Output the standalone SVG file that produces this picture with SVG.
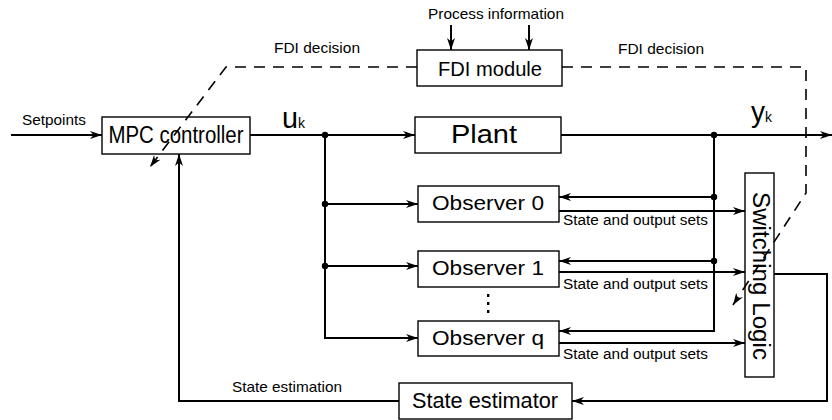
<svg xmlns="http://www.w3.org/2000/svg" width="832" height="420" viewBox="0 0 832 420">
  <defs>
    <marker id="arr" markerWidth="12" markerHeight="9" refX="12" refY="4.5" orient="auto" markerUnits="userSpaceOnUse">
      <path d="M0,0.5 L12,4.5 L0,8.5 L3.5,4.5 z" fill="#000"/>
    </marker>
  </defs>
  <style>
    .box { fill: #fff; stroke: #000; stroke-width: 1.4; }
    .ln { fill: none; stroke: #000; stroke-width: 2; }
    .dash { fill: none; stroke: #000; stroke-width: 1.6; stroke-dasharray: 11 8; }
    .big { font-family: "Liberation Sans", Arial, sans-serif; fill: #000; text-anchor: middle; }
    .small { font-family: "Liberation Sans", Arial, sans-serif; fill: #000; }
    .sym { font-family: "Liberation Sans", Arial, sans-serif; fill: #000; }
    .dot { fill: #000; }
  </style>
  <rect width="832" height="420" fill="#fff"/>

  <!-- connectors -->
  <g id="connectors">
    <!-- setpoints into controller -->
    <line class="ln" x1="11" y1="135" x2="102" y2="135" marker-end="url(#arr)"/>
    <!-- control signal to plant -->
    <line class="ln" x1="250" y1="135" x2="415" y2="135" marker-end="url(#arr)"/>
    <!-- control signal bus to observers -->
    <polyline class="ln" points="325,135 325,338 418,338" marker-end="url(#arr)"/>
    <line class="ln" x1="325" y1="204" x2="418" y2="204" marker-end="url(#arr)"/>
    <line class="ln" x1="325" y1="266" x2="418" y2="266" marker-end="url(#arr)"/>
    <circle class="dot" cx="325" cy="135" r="3.2"/>
    <circle class="dot" cx="325" cy="204" r="3.2"/>
    <circle class="dot" cx="325" cy="266" r="3.2"/>
    <!-- plant output -->
    <line class="ln" x1="561" y1="135" x2="832" y2="135" marker-end="url(#arr)"/>
    <!-- measured output fed back to observers -->
    <polyline class="ln" points="714,135 714,331 559,331" marker-end="url(#arr)"/>
    <line class="ln" x1="714" y1="197" x2="559" y2="197" marker-end="url(#arr)"/>
    <line class="ln" x1="714" y1="261" x2="559" y2="261" marker-end="url(#arr)"/>
    <circle class="dot" cx="714" cy="135" r="3.2"/>
    <circle class="dot" cx="714" cy="197" r="3.2"/>
    <circle class="dot" cx="714" cy="261" r="3.2"/>
    <!-- observer sets to switching logic -->
    <line class="ln" x1="559" y1="211" x2="745" y2="211" marker-end="url(#arr)"/>
    <line class="ln" x1="559" y1="272" x2="745" y2="272" marker-end="url(#arr)"/>
    <line class="ln" x1="559" y1="343" x2="745" y2="343" marker-end="url(#arr)"/>
    <!-- switching logic to state estimator -->
    <polyline class="ln" points="774,274 827,274 827,401 572,401" marker-end="url(#arr)"/>
    <!-- state estimation back to controller -->
    <polyline class="ln" points="399,401 179,401 179,154" marker-end="url(#arr)"/>
    <!-- process information into FDI module -->
    <line class="ln" x1="451" y1="25" x2="451" y2="50" marker-end="url(#arr)"/>
    <line class="ln" x1="529" y1="25" x2="529" y2="50" marker-end="url(#arr)"/>
    <!-- FDI decisions -->
    <polyline class="dash" points="417,67 226,67 150,167" marker-end="url(#arr)"/>
    <polyline class="dash" points="562,67 806,67 806,193 733,305" marker-end="url(#arr)"/>
  </g>

  <!-- nodes -->
  <g id="mpc">
    <rect class="box" x="102" y="117" width="148" height="37" fill-opacity="0"/>
    <text class="big" x="176" y="143" font-size="23" textLength="135" lengthAdjust="spacingAndGlyphs">MPC controller</text>
  </g>
  <g id="fdi">
    <rect class="box" x="417" y="50" width="145" height="36"/>
    <text class="big" x="490" y="76" font-size="21" textLength="104" lengthAdjust="spacingAndGlyphs">FDI module</text>
  </g>
  <g id="plant">
    <rect class="box" x="415" y="117" width="146" height="36"/>
    <text class="big" x="484" y="143" font-size="25" textLength="66" lengthAdjust="spacingAndGlyphs">Plant</text>
  </g>
  <g id="observer0">
    <rect class="box" x="418" y="186" width="141" height="36"/>
    <text class="big" x="488" y="210" font-size="21" textLength="112" lengthAdjust="spacingAndGlyphs">Observer 0</text>
  </g>
  <g id="observer1">
    <rect class="box" x="418" y="251" width="141" height="36"/>
    <text class="big" x="488" y="275" font-size="21" textLength="112" lengthAdjust="spacingAndGlyphs">Observer 1</text>
  </g>
  <g id="ellipsis">
    <rect class="dot" x="487" y="294" width="2.4" height="3"/>
    <rect class="dot" x="487" y="302" width="2.4" height="3"/>
    <rect class="dot" x="487" y="310" width="2.4" height="3"/>
  </g>
  <g id="observerq">
    <rect class="box" x="418" y="321" width="141" height="35"/>
    <text class="big" x="488" y="345" font-size="21" textLength="112" lengthAdjust="spacingAndGlyphs">Observer q</text>
  </g>
  <g id="switching">
    <rect class="box" x="745" y="173" width="29" height="204" fill-opacity="0"/>
    <text class="big" transform="translate(753,276) rotate(90)" font-size="23" textLength="168" lengthAdjust="spacingAndGlyphs">Switching Logic</text>
  </g>
  <g id="estimator">
    <rect class="box" x="399" y="383" width="173" height="36"/>
    <text class="big" x="485" y="408" font-size="22" textLength="146" lengthAdjust="spacingAndGlyphs">State estimator</text>
  </g>

  <!-- labels -->
  <g id="labels">
    <text class="small" x="22" y="125" font-size="15" textLength="64" lengthAdjust="spacingAndGlyphs">Setpoints</text>
    <text class="small" x="428" y="19" font-size="15" textLength="136" lengthAdjust="spacingAndGlyphs">Process information</text>
    <text class="small" x="274" y="53" font-size="15" textLength="86" lengthAdjust="spacingAndGlyphs">FDI decision</text>
    <text class="small" x="618" y="54" font-size="15" textLength="86" lengthAdjust="spacingAndGlyphs">FDI decision</text>
    <text class="small" x="232" y="392" font-size="15" textLength="110" lengthAdjust="spacingAndGlyphs">State estimation</text>
    <text class="small" x="563" y="225" font-size="14" textLength="145" lengthAdjust="spacingAndGlyphs">State and output sets</text>
    <text class="small" x="563" y="289" font-size="14" textLength="145" lengthAdjust="spacingAndGlyphs">State and output sets</text>
    <text class="small" x="563" y="359" font-size="14" textLength="145" lengthAdjust="spacingAndGlyphs">State and output sets</text>
    <text class="sym" font-size="29" x="282" y="128" textLength="16" lengthAdjust="spacingAndGlyphs">u</text>
    <text class="sym" font-size="14" x="298" y="128">k</text>
    <text class="sym" font-size="29" x="751" y="122" textLength="14" lengthAdjust="spacingAndGlyphs">y</text>
    <text class="sym" font-size="14" x="765" y="122">k</text>
  </g>
</svg>
